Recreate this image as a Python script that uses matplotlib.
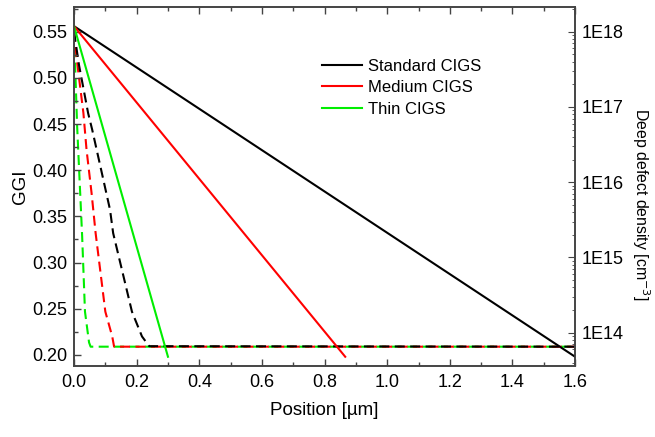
import matplotlib
matplotlib.use("Agg")
import matplotlib.pyplot as plt
from matplotlib.ticker import MultipleLocator, LogLocator, FixedLocator, NullFormatter, FormatStrFormatter

plt.rcParams['font.family'] = ['Liberation Sans', 'DejaVu Sans']

# GGI profiles (left axis)
std_x = [0.0, 1.6]
std_ggi = [0.556, 0.198]
med_x = [0.0, 0.866]
med_ggi = [0.556, 0.198]
thin_x = [0.0, 0.300]
thin_ggi = [0.556, 0.198]

# Deep defect density profiles (right axis)
std_dx = [0.0, 0.016, 0.045, 0.058, 0.086, 0.115, 0.125, 0.185, 0.217, 0.24, 1.6]
std_dd = [1e18, 3.6e17, 8.3e16, 5.0e16, 1.5e16, 4.3e15, 2.1e15, 1.9e14, 8.9e13, 6.6e13, 6.5e13]
med_dx = [0.0, 0.010, 0.030, 0.040, 0.056, 0.069, 0.100, 0.122, 0.128, 1.6]
med_dd = [1e18, 3.9e17, 8.3e16, 2.7e16, 7.2e15, 2.1e15, 1.9e14, 8.9e13, 6.5e13, 6.5e13]
thin_dx = [0.0, 0.010, 0.026, 0.035, 0.048, 0.053, 1.6]
thin_dd = [1e18, 5.5e16, 1.9e15, 1.9e14, 7.4e13, 6.5e13, 6.5e13]

labels = ["Standard CIGS", "Medium CIGS", "Thin CIGS"]
right_ticks = [1e14, 1e15, 1e16, 1e17, 1e18]
right_ticklabels = ["1E14", "1E15", "1E16", "1E17", "1E18"]
colors = ["#000000", "#ff0000", "#00ee00"]

fig = plt.figure(figsize=(6.55, 4.37), dpi=100)
ax = fig.add_axes([0.113, 0.1625, 0.765, 0.822])
ax2 = ax.twinx()

lw = 1.5
dash = (4.8, 2.6)
for xs, ys, c in [(thin_dx, thin_dd, colors[2]), (med_dx, med_dd, colors[1]), (std_dx, std_dd, colors[0])]:
    ax2.plot(xs, ys, color=c, lw=lw, dashes=dash)

h = []
for xs, ys, c, lab in [(std_x, std_ggi, colors[0], labels[0]), (med_x, med_ggi, colors[1], labels[1]), (thin_x, thin_ggi, colors[2], labels[2])]:
    l, = ax.plot(xs, ys, color=c, lw=lw, label=lab)
    h.append(l)

ax.set_zorder(ax2.get_zorder() + 1)
ax.patch.set_visible(False)

ax.set_xlim(0, 1.6)
ax.set_ylim(0.188, 0.577)
ax2.set_yscale('log')
ax2.set_ylim(3.6e13, 2.15e18)

ax.xaxis.set_major_locator(MultipleLocator(0.2))
ax.xaxis.set_minor_locator(MultipleLocator(0.1))
ax.yaxis.set_major_locator(MultipleLocator(0.05))
ax.yaxis.set_minor_locator(MultipleLocator(0.025))
ax.xaxis.set_major_formatter(FormatStrFormatter('%.1f'))
ax.yaxis.set_major_formatter(FormatStrFormatter('%.2f'))

ax2.yaxis.set_major_locator(FixedLocator(right_ticks))
ax2.yaxis.set_minor_locator(LogLocator(base=10, subs=range(2, 10), numticks=20))
ax2.yaxis.set_minor_formatter(NullFormatter())
ax2.set_yticklabels(right_ticklabels)

fs = 13
ax.tick_params(axis='both', which='both', direction='in', labelsize=fs, width=1, top=True, color='#444444')
ax.tick_params(axis='x', which='major', length=5, pad=6)
ax.tick_params(axis='x', which='minor', length=3, top=True)
ax.tick_params(axis='y', which='major', length=5, right=False, pad=5)
ax.tick_params(axis='y', which='minor', length=3, right=False)
ax2.tick_params(axis='y', which='both', direction='in', labelsize=fs, color='#444444')
ax2.tick_params(axis='y', which='major', length=5, pad=4.5)
ax2.tick_params(axis='y', which='minor', length=2.5)

for a in (ax, ax2):
    for s in a.spines.values():
        s.set_color('#444444')
        s.set_linewidth(1.2)

ax.set_xlabel("Position [µm]", fontsize=13.5, labelpad=8)
ax.set_ylabel("GGI", fontsize=13.5, labelpad=2)
ax2.set_ylabel("Deep defect density [cm$^{-3}$]", fontsize=11.4, rotation=270,
               va='center', ha='center')
ax2.yaxis.set_label_coords(1.132, 0.45)

ax.legend(handles=h, loc='upper left', bbox_to_anchor=(0.495, 0.855), frameon=False,
          fontsize=12, handlelength=2.4, handletextpad=0.35, labelspacing=0.38,
          borderpad=0, borderaxespad=0)

fig.savefig("out.png", dpi=100)
